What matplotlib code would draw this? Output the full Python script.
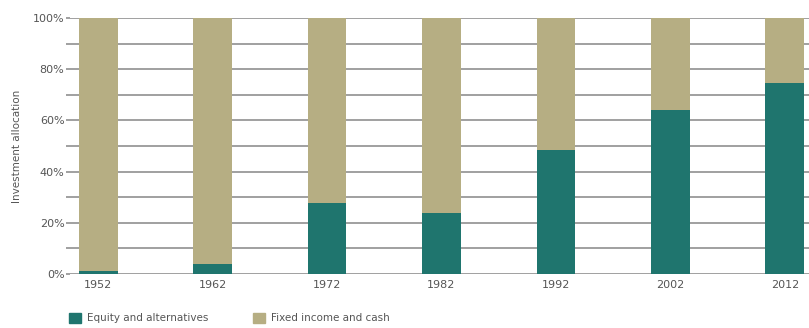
import numpy as np
import matplotlib.pyplot as plt
from matplotlib.patches import Patch
from matplotlib.ticker import FuncFormatter, MultipleLocator

years = ['1952', '1962', '1972', '1982', '1992', '2002', '2012']
equity = [1.2, 3.9, 27.7, 23.8, 48.4, 64.0, 74.6]
fixed = [100 - e for e in equity]

teal = '#1f756e'
khaki = '#b6ae83'
grey = '#555555'

fig = plt.figure(figsize=(8.09, 3.28), dpi=100)
ax = fig.add_axes([70 / 809, 1 - 274 / 328, 1 - 70 / 809, (274 - 18) / 328])

x = np.arange(len(years))
ax.bar(x, equity, width=0.34, color=teal, zorder=3)
ax.bar(x, fixed, width=0.34, bottom=equity, color=khaki, zorder=3)

ax.set_xlim(-0.245, 6.21)
ax.set_ylim(0, 100)
ax.yaxis.set_major_locator(MultipleLocator(20))
ax.yaxis.set_minor_locator(MultipleLocator(10))
ax.yaxis.set_major_formatter(FuncFormatter(lambda v, p: '%d%%' % v))
ax.grid(axis='y', which='both', color='#999999', linewidth=1.3, zorder=0)
ax.set_xticks(x)
ax.set_xticklabels(years)
ax.tick_params(axis='x', length=0, pad=4, labelsize=8, labelcolor=grey)
ax.tick_params(axis='y', which='both', length=3, width=1.3, color='#999999',
               labelsize=8, labelcolor=grey, pad=1)
for s in ax.spines.values():
    s.set_visible(False)

ax.set_ylabel('Investment allocation', fontsize=7.5, color=grey, labelpad=8)

handles = [Patch(color=teal, label='Equity and alternatives'),
           Patch(color=khaki, label='Fixed income and cash')]
fig.legend(handles=handles, loc='center left', bbox_to_anchor=(60 / 809, 1 - 318 / 328),
           ncol=2, frameon=False, fontsize=7.5, labelcolor=grey,
           handlelength=1.1, handleheight=1.1, columnspacing=4.3, handletextpad=0.6)

fig.savefig('out.png', dpi=100)
